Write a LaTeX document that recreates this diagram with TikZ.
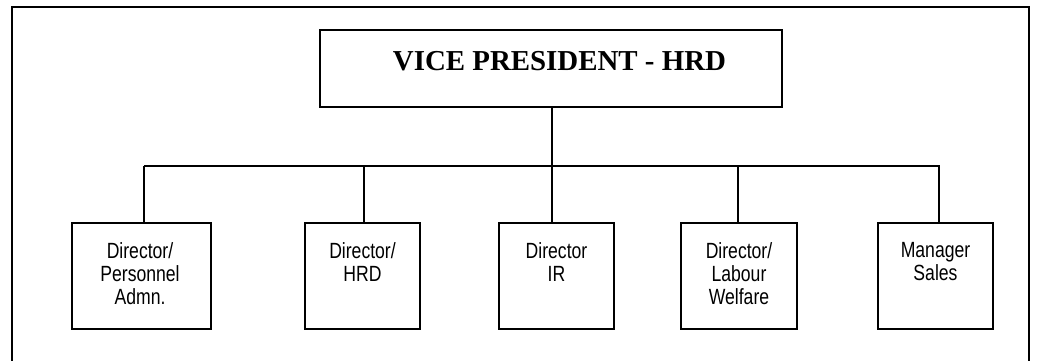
\documentclass[tikz,border=0pt]{standalone}
\usepackage{fontspec}
\setmainfont{Liberation Serif}
\newfontfamily\boxfont{Liberation Sans}[FakeStretch=0.8]
\begin{document}
\begin{tikzpicture}[x=1pt,y=-1pt,line width=1.6pt,
  unitbox/.style={draw,rectangle,minimum width=#1,minimum height=106pt,inner sep=0pt},
  boxtext/.style={anchor=north,inner sep=0pt,align=center,font=\boxfont\fontsize{22}{23}\selectfont},
  conn/.style={line width=1.4pt}]
\useasboundingbox (0,0) rectangle (1037,360);
\draw (12,362) -- (12,7) -- (1029,7) -- (1029,362);
\node[draw,rectangle,minimum width=462pt,minimum height=77pt,inner sep=0pt] (vp) at (551,68.5) {};
\node[anchor=base,inner sep=0pt,font=\bfseries\fontsize{28.9}{30}\selectfont] (vpt) at (559.5,70) {VICE PRESIDENT - HRD};
\node[unitbox=139pt] (n1) at (141.5,276) {};
\node[unitbox=115pt] (n2) at (362.5,276) {};
\node[unitbox=115pt] (n3) at (556.5,276) {};
\node[unitbox=116pt] (n4) at (739,276) {};
\node[unitbox=115pt] (n5) at (935.5,276) {};
\node[boxtext] (t1) at (140,241.5) {Director/\\Personnel\\Admn.};
\node[boxtext] (t2) at (362.5,241.5) {Director/\\HRD};
\node[boxtext] (t3) at (556.5,241.5) {Director\\IR};
\node[boxtext] (t4) at (739,241.5) {Director/\\Labour\\Welfare};
\node[boxtext] (t5) at (935.5,241.5) {Manager\\Sales};
\coordinate (b1) at (144,166);
\coordinate (b2) at (364,166);
\coordinate (b3) at (552,166);
\coordinate (b4) at (738,166);
\coordinate (b5) at (939,166);
\draw[conn] (b1) -- (940,166);
\draw[conn] (vp.south -| b3) -- (b3);
\draw[conn] (b1) -- (b1 |- n1.north);
\draw[conn] (b2) -- (b2 |- n2.north);
\draw[conn] (b3) -- (b3 |- n3.north);
\draw[conn] (b4) -- (b4 |- n4.north);
\draw[conn] (b5) -- (b5 |- n5.north);
\end{tikzpicture}
\end{document}
